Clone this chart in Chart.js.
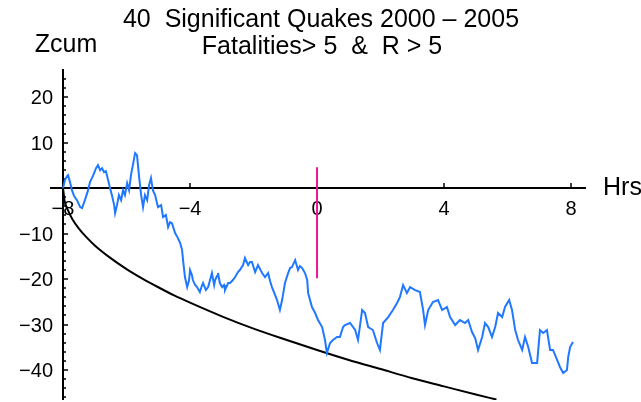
<!DOCTYPE html>
<html>
<head>
<meta charset="utf-8">
<script src="https://cdn.jsdelivr.net/npm/chart.js@4/dist/chart.umd.min.js"></script>
<style>
  html, body { margin: 0; padding: 0; background: #ffffff; }
  #wrap { width: 641px; height: 402px; }
</style>
</head>
<body>
<div id="wrap"><canvas id="chart" width="641" height="402"></canvas></div>
<script>
// Texts
const titleLines = ['40  Significant Quakes 2000 \u2013 2005', 'Fatalities> 5  &  R > 5'];
const yAxisTitle = 'Zcum';
const xAxisTitle = 'Hrs';

// Axis ticks
const xTicks = [-8, -4, 0, 4, 8];
const yTicks = [20, 10, -10, -20, -30, -40];
const yMinorTicks = [24, 22, 18, 16, 14, 12, 8, 6, 4, 2, -2, -4, -6, -8, -12, -14, -16, -18,
                     -22, -24, -26, -28, -32, -34, -36, -38, -42, -44, -46];

// Cumulative Z against hours from the event
const hours = [-8.00,-7.94,-7.87,-7.84,-7.78,-7.72,-7.65,-7.56,-7.46,-7.40,
  -7.31,-7.21,-7.15,-7.06,-6.96,-6.90,-6.83,-6.77,-6.71,-6.65,
  -6.58,-6.52,-6.46,-6.39,-6.36,-6.30,-6.24,-6.17,-6.11,-6.05,
  -5.98,-5.92,-5.86,-5.80,-5.73,-5.67,-5.61,-5.54,-5.48,-5.42,
  -5.35,-5.29,-5.23,-5.17,-5.10,-5.01,-4.91,-4.85,-4.76,-4.69,
  -4.63,-4.57,-4.47,-4.38,-4.31,-4.25,-4.22,-4.16,-4.09,-4.03,
  -4.00,-3.94,-3.91,-3.84,-3.78,-3.69,-3.62,-3.59,-3.50,-3.43,
  -3.37,-3.31,-3.24,-3.21,-3.15,-3.12,-3.06,-2.99,-2.93,-2.90,
  -2.80,-2.74,-2.65,-2.58,-2.49,-2.43,-2.33,-2.27,-2.17,-2.11,
  -2.05,-1.95,-1.86,-1.73,-1.64,-1.54,-1.48,-1.42,-1.32,-1.26,
  -1.17,-1.10,-1.01,-0.91,-0.85,-0.79,-0.69,-0.60,-0.54,-0.47,
  -0.38,-0.31,-0.28,-0.16,-0.06,0.03,0.16,0.25,0.31,0.41,
  0.50,0.63,0.72,0.82,0.88,1.04,1.20,1.29,1.42,1.51,
  1.61,1.76,1.89,1.98,2.08,2.24,2.39,2.52,2.61,2.71,
  2.83,2.93,3.09,3.24,3.34,3.40,3.50,3.65,3.81,3.94,
  4.09,4.19,4.35,4.50,4.66,4.76,4.88,4.98,5.07,5.20,
  5.29,5.39,5.51,5.61,5.70,5.83,5.92,6.05,6.14,6.24,
  6.33,6.46,6.55,6.65,6.77,6.93,7.02,7.12,7.24,7.34,
  7.43,7.56,7.65,7.75,7.87,7.91,7.97,8.06];
const zcum = [0,1.76,2.64,2.86,1.32,-0.44,-1.76,-2.64,-4.18,-4.40,
  -2.64,-0.44,1.32,2.64,4.40,5.05,3.96,4.40,3.52,3.74,
  1.76,0,-1.54,-3.74,-5.49,-3.74,-1.54,-2.64,-0.44,-1.54,
  1.10,-0.44,2.86,5.05,7.69,7.25,2.86,-1.54,-4.18,-1.54,
  -2.64,0.66,2.20,-0.44,-1.54,-4.18,-3.74,-6.37,-5.93,-8.57,
  -7.47,-7.69,-9.89,-10.99,-12.09,-13.63,-15.82,-19.56,-21.76,-20.22,
  -18.02,-19.12,-20.22,-21.32,-21.76,-22.86,-21.32,-20.88,-22.42,-21.76,
  -20.22,-18.68,-21.32,-20.22,-19.34,-18.68,-20.88,-21.76,-21.32,-22.42,
  -20.88,-20.88,-20.22,-19.56,-18.46,-18.02,-16.92,-15.38,-16.92,-16.26,
  -16.26,-18.46,-16.92,-18.68,-19.56,-18.68,-20.44,-21.76,-23.52,-24.62,
  -26.81,-24.62,-20.88,-18.68,-17.58,-17.36,-15.82,-18.02,-17.14,-17.58,
  -18.68,-20.22,-23.08,-26.15,-27.47,-29.01,-30.55,-33.41,-36.26,-34.07,
  -33.41,-32.75,-32.75,-30.55,-30.11,-29.67,-31.21,-33.41,-26.81,-27.47,
  -30.55,-31.21,-34.07,-35.60,-29.67,-28.35,-26.81,-25.27,-23.96,-21.32,
  -23.08,-21.76,-22.42,-22.86,-26.81,-30.11,-26.81,-25.05,-24.62,-26.81,
  -26.15,-28.35,-30.11,-29.01,-29.67,-29.01,-31.65,-32.97,-35.60,-32.75,
  -29.67,-30.55,-32.75,-30.55,-27.47,-28.35,-26.15,-24.62,-26.81,-31.21,
  -33.41,-35.60,-32.75,-34.95,-38.46,-38.46,-31.21,-31.87,-31.21,-35.60,
  -35.60,-37.80,-39.34,-40.66,-40.00,-37.14,-34.95,-33.85];

// Lower bound curve
const boundHours = [-8.0,-7.95,-7.85,-7.7,-7.5,-7.25,-7.0,-6.5,-6.0,-5.5,-5.0,-4.5,-4.0,
                    -3.0,-2.0,-1.0,0.0,1.0,2.0,3.0,4.0,5.0,5.65];
const boundZ = [0,-2.8,-4.8,-6.9,-8.9,-10.9,-12.6,-15.4,-17.8,-19.9,-21.8,-23.6,-25.2,
                -28.2,-30.9,-33.3,-35.6,-37.8,-39.8,-41.8,-43.6,-45.4,-46.5];

// Event marker at hour 0
const markerHours = [0, 0];
const markerZ = [4.6, -19.8];

const pts = (xs, ys) => xs.map((v, i) => ({ x: v, y: ys[i] }));

const FONT = '"Liberation Sans", Arial, Helvetica, sans-serif';

// Axes crossing at (-8, 0) with inward ticks, drawn from the chart's scales
const crossedAxes = {
  id: 'crossedAxes',
  beforeDatasetsDraw(chart) {
    const { ctx, chartArea: a, scales: { x, y } } = chart;
    const ox = Math.round(x.getPixelForValue(-8));
    const oy = Math.round(y.getPixelForValue(0));
    ctx.save();
    ctx.strokeStyle = '#000';
    ctx.fillStyle = '#000';

    // axis lines
    ctx.lineWidth = 2;
    ctx.beginPath();
    ctx.moveTo(a.left, oy); ctx.lineTo(a.right, oy);
    ctx.moveTo(ox, a.top); ctx.lineTo(ox, a.bottom);
    ctx.stroke();

    // ticks
    ctx.lineWidth = 1.5;
    ctx.beginPath();
    xTicks.forEach(v => {
      const px = Math.round(x.getPixelForValue(v));
      ctx.moveTo(px, oy); ctx.lineTo(px, oy - 5);
    });
    yTicks.forEach(v => {
      const py = Math.round(y.getPixelForValue(v));
      ctx.moveTo(ox, py); ctx.lineTo(ox + 5, py);
    });
    yMinorTicks.forEach(v => {
      const py = Math.round(y.getPixelForValue(v));
      ctx.moveTo(ox, py); ctx.lineTo(ox + 3, py);
    });
    ctx.stroke();

    const fmt = v => (v < 0 ? '\u2212' + Math.abs(v) : String(v));
    ctx.font = '20px ' + FONT;
    ctx.textBaseline = 'alphabetic';
    ctx.textAlign = 'center';
    xTicks.forEach(v => {
      ctx.fillText(fmt(v), x.getPixelForValue(v), oy + 27);
    });
    ctx.textAlign = 'right';
    yTicks.forEach(v => {
      ctx.fillText(fmt(v), ox - 10, y.getPixelForValue(v) + 7);
    });

    // titles
    ctx.font = '25px ' + FONT;
    ctx.textAlign = 'center';
    ctx.fillText(titleLines[0], 321, 27);
    ctx.fillText(titleLines[1], 322, 54);
    ctx.fillText(yAxisTitle, 66, 52);
    ctx.textAlign = 'left';
    ctx.fillText(xAxisTitle, 603, oy + 7 + 0);
    ctx.restore();
  }
};

new Chart(document.getElementById('chart'), {
  type: 'scatter',
  data: {
    datasets: [
      {
        label: 'Zcum',
        data: pts(hours, zcum),
        showLine: true,
        borderColor: '#1f78ff',
        borderWidth: 2,
        pointRadius: 0,
        tension: 0,
        order: 0
      },
      {
        label: 'Marker',
        data: pts(markerHours, markerZ),
        showLine: true,
        borderColor: '#ee1590',
        borderWidth: 2,
        pointRadius: 0,
        order: 1
      },
      {
        label: 'Bound',
        data: pts(boundHours, boundZ),
        showLine: true,
        borderColor: '#000000',
        borderWidth: 2,
        pointRadius: 0,
        cubicInterpolationMode: 'monotone',
        order: 2
      }
    ]
  },
  options: {
    responsive: false,
    devicePixelRatio: 1,
    animation: false,
    layout: { padding: { left: 50, right: 55, top: 69, bottom: 2 } },
    scales: {
      x: { type: 'linear', min: -8.41, max: 8.47, display: false },
      y: { type: 'linear', min: -46.6, max: 26.2, display: false }
    },
    plugins: {
      legend: { display: false },
      tooltip: { enabled: false },
      title: { display: false }
    }
  },
  plugins: [crossedAxes]
});
</script>
</body>
</html>
